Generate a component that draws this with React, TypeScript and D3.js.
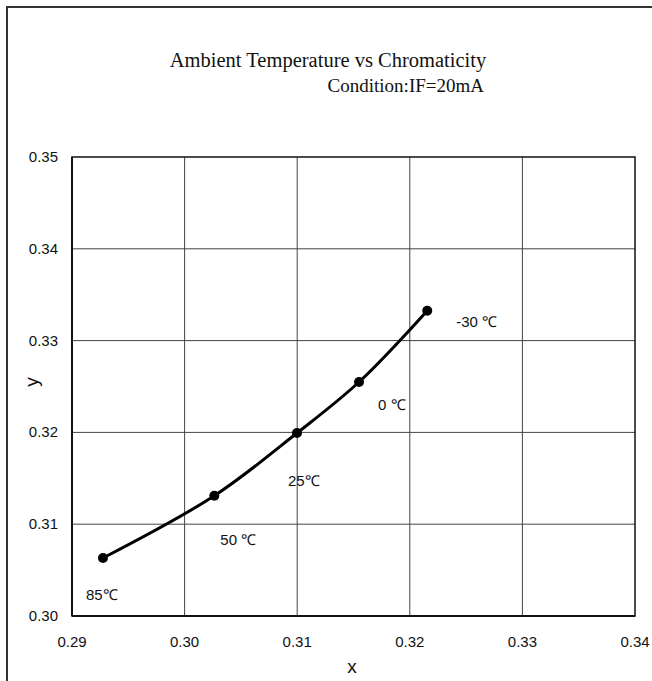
import React from "react";
import * as d3 from "d3";

// chromaticity points, ordered hot -> cold
const temps = ["85℃", "50 ℃", "25℃", "0 ℃", "-30 ℃"];
const xValues = [0.29275, 0.30264, 0.30998, 0.31549, 0.32155];
const yValues = [0.30632, 0.3131, 0.31993, 0.32549, 0.33326];
const xTicks = [0.29, 0.3, 0.31, 0.32, 0.33, 0.34];
const yTicks = [0.3, 0.31, 0.32, 0.33, 0.34, 0.35];

// where each temperature label sits relative to its marker (px)
const labelDx = [-17, 6, -9, 19, 29];
const labelDy = [42, 49, 53, 28, 16];

const width = 652;
const height = 681;
const plot = { left: 72, right: 635, top: 157, bottom: 616 };
const sans = "'Liberation Sans', Arial, sans-serif";
const serif = "'Liberation Serif', 'Times New Roman', serif";

export default function App() {
  const x = d3.scaleLinear().domain([0.29, 0.34]).range([plot.left, plot.right]);
  const y = d3.scaleLinear().domain([0.3, 0.35]).range([plot.bottom, plot.top]);

  const points = xValues.map((v, i) => ({ x: v, y: yValues[i], label: temps[i] }));
  const line = d3
    .line<{ x: number; y: number }>()
    .x((d) => x(d.x))
    .y((d) => y(d.y))
    .curve(d3.curveCatmullRom.alpha(0.5));

  return (
    <svg
      width={width}
      height={height}
      style={{ position: "absolute", left: 0, top: 0, background: "#fff" }}
    >
      {/* outer chart frame, runs off right/bottom edge */}
      <rect x={7} y={7} width={700} height={700} fill="none" stroke="#333" strokeWidth={2} />

      <text x={328} y={67} textAnchor="middle" fontFamily={serif} fontSize={20.5} fill="#111">
        Ambient Temperature vs Chromaticity
      </text>
      <text x={484} y={92} textAnchor="end" fontFamily={serif} fontSize={19} fill="#111">
        Condition:IF=20mA
      </text>

      {/* grid */}
      {xTicks.slice(1, -1).map((t) => (
        <line key={"gx" + t} x1={x(t)} x2={x(t)} y1={plot.top} y2={plot.bottom} stroke="#444" strokeWidth={1} />
      ))}
      {yTicks.slice(1, -1).map((t) => (
        <line key={"gy" + t} x1={plot.left} x2={plot.right} y1={y(t)} y2={y(t)} stroke="#444" strokeWidth={1} />
      ))}
      <rect
        x={plot.left}
        y={plot.top}
        width={plot.right - plot.left}
        height={plot.bottom - plot.top}
        fill="none"
        stroke="#111"
        strokeWidth={1.5}
      />
      <line x1={plot.left} x2={plot.left} y1={plot.top} y2={plot.bottom} stroke="#111" strokeWidth={2} />
      <line x1={plot.left} x2={plot.right} y1={plot.bottom} y2={plot.bottom} stroke="#111" strokeWidth={2} />

      {/* tick labels */}
      {xTicks.map((t) => (
        <text key={"tx" + t} x={x(t)} y={647} textAnchor="middle" fontFamily={sans} fontSize={15} fill="#111">
          {t.toFixed(2)}
        </text>
      ))}
      {yTicks.map((t) => (
        <text key={"ty" + t} x={58} y={y(t) + 5} textAnchor="end" fontFamily={sans} fontSize={15} fill="#111">
          {t.toFixed(2)}
        </text>
      ))}

      <text x={352} y={673} textAnchor="middle" fontFamily={sans} fontSize={19} fill="#111">
        x
      </text>
      <text
        transform={`translate(38, 382) rotate(-90)`}
        textAnchor="middle"
        fontFamily={sans}
        fontSize={19}
        fill="#111"
      >
        y
      </text>

      {/* series */}
      <path d={line(points) ?? ""} fill="none" stroke="#000" strokeWidth={3} />
      {points.map((p, i) => (
        <circle key={"pt" + i} cx={x(p.x)} cy={y(p.y)} r={5} fill="#000" />
      ))}
      {points.map((p, i) => (
        <text
          key={"lb" + i}
          x={x(p.x) + labelDx[i]}
          y={y(p.y) + labelDy[i]}
          fontFamily={sans}
          fontSize={15}
          fill="#111"
        >
          {p.label}
        </text>
      ))}
    </svg>
  );
}
